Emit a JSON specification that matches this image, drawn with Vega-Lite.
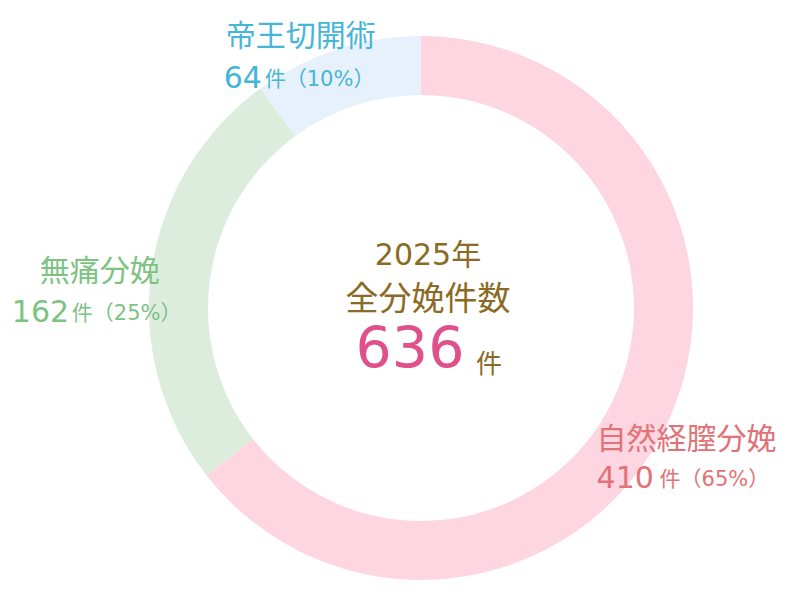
{
  "$schema": "https://vega.github.io/schema/vega-lite/v6.json",
  "width": 758,
  "height": 584,
  "autosize": "none",
  "padding": {"left": 42, "top": 16, "right": 0, "bottom": 0},
  "background": "white",
  "config": {
    "view": {"stroke": null},
    "text": {"font": "DejaVu Sans, Noto Sans CJK JP"}
  },
  "data": {
    "values": [
      {"category": "自然経膣分娩", "count": 410, "suffix": "件（65%）"},
      {"category": "無痛分娩", "count": 162, "suffix": "件（25%）"},
      {"category": "帝王切開術", "count": 64, "suffix": "件（10%）"}
    ]
  },
  "layer": [
    {
      "mark": {"type": "arc", "outerRadius": 272, "innerRadius": 213},
      "encoding": {
        "theta": {"field": "count", "type": "quantitative", "stack": true},
        "order": {"field": "count", "type": "quantitative", "sort": "descending"},
        "color": {
          "field": "category",
          "type": "nominal",
          "scale": {
            "domain": ["自然経膣分娩", "無痛分娩", "帝王切開術"],
            "range": ["#fdd6e2", "#dcecdd", "#e7f1fb"]
          },
          "legend": null
        }
      }
    },
    {
      "mark": {"type": "text", "radius": 300, "align": "left", "baseline": "middle", "dx": -94, "dy": 0, "fontSize": 30, "color": "#e27276"},
      "encoding": {
        "theta": {"field": "count", "type": "quantitative", "stack": true},
        "order": {"field": "count", "type": "quantitative", "sort": "descending"},
        "detail": {"field": "category", "type": "nominal"},
        "text": {"condition": {"test": "datum.category === '自然経膣分娩'", "field": "category"}, "value": ""}
      }
    },
    {
      "mark": {"type": "text", "radius": 300, "align": "left", "baseline": "middle", "dx": -94, "dy": 39, "fontSize": 30, "color": "#e27276"},
      "encoding": {
        "theta": {"field": "count", "type": "quantitative", "stack": true},
        "order": {"field": "count", "type": "quantitative", "sort": "descending"},
        "detail": {"field": "category", "type": "nominal"},
        "text": {"condition": {"test": "datum.category === '自然経膣分娩'", "field": "count"}, "value": ""}
      }
    },
    {
      "mark": {"type": "text", "radius": 300, "align": "left", "baseline": "middle", "dx": -31, "dy": 40, "fontSize": 21, "color": "#e27276"},
      "encoding": {
        "theta": {"field": "count", "type": "quantitative", "stack": true},
        "order": {"field": "count", "type": "quantitative", "sort": "descending"},
        "detail": {"field": "category", "type": "nominal"},
        "text": {"condition": {"test": "datum.category === '自然経膣分娩'", "field": "suffix"}, "value": ""}
      }
    },
    {
      "mark": {"type": "text", "radius": 300, "align": "left", "baseline": "middle", "dx": -84, "dy": 5, "fontSize": 30, "color": "#7cc382"},
      "encoding": {
        "theta": {"field": "count", "type": "quantitative", "stack": true},
        "order": {"field": "count", "type": "quantitative", "sort": "descending"},
        "detail": {"field": "category", "type": "nominal"},
        "text": {"condition": {"test": "datum.category === '無痛分娩'", "field": "category"}, "value": ""}
      }
    },
    {
      "mark": {"type": "text", "radius": 300, "align": "left", "baseline": "middle", "dx": -112, "dy": 46, "fontSize": 30, "color": "#7cc382"},
      "encoding": {
        "theta": {"field": "count", "type": "quantitative", "stack": true},
        "order": {"field": "count", "type": "quantitative", "sort": "descending"},
        "detail": {"field": "category", "type": "nominal"},
        "text": {"condition": {"test": "datum.category === '無痛分娩'", "field": "count"}, "value": ""}
      }
    },
    {
      "mark": {"type": "text", "radius": 300, "align": "left", "baseline": "middle", "dx": -52, "dy": 47, "fontSize": 21, "color": "#7cc382"},
      "encoding": {
        "theta": {"field": "count", "type": "quantitative", "stack": true},
        "order": {"field": "count", "type": "quantitative", "sort": "descending"},
        "detail": {"field": "category", "type": "nominal"},
        "text": {"condition": {"test": "datum.category === '無痛分娩'", "field": "suffix"}, "value": ""}
      }
    },
    {
      "mark": {"type": "text", "radius": 300, "align": "left", "baseline": "middle", "dx": -102, "dy": 14, "fontSize": 30, "color": "#45b5d8"},
      "encoding": {
        "theta": {"field": "count", "type": "quantitative", "stack": true},
        "order": {"field": "count", "type": "quantitative", "sort": "descending"},
        "detail": {"field": "category", "type": "nominal"},
        "text": {"condition": {"test": "datum.category === '帝王切開術'", "field": "category"}, "value": ""}
      }
    },
    {
      "mark": {"type": "text", "radius": 300, "align": "left", "baseline": "middle", "dx": -104, "dy": 56, "fontSize": 30, "color": "#45b5d8"},
      "encoding": {
        "theta": {"field": "count", "type": "quantitative", "stack": true},
        "order": {"field": "count", "type": "quantitative", "sort": "descending"},
        "detail": {"field": "category", "type": "nominal"},
        "text": {"condition": {"test": "datum.category === '帝王切開術'", "field": "count"}, "value": ""}
      }
    },
    {
      "mark": {"type": "text", "radius": 300, "align": "left", "baseline": "middle", "dx": -63, "dy": 57, "fontSize": 21, "color": "#45b5d8"},
      "encoding": {
        "theta": {"field": "count", "type": "quantitative", "stack": true},
        "order": {"field": "count", "type": "quantitative", "sort": "descending"},
        "detail": {"field": "category", "type": "nominal"},
        "text": {"condition": {"test": "datum.category === '帝王切開術'", "field": "suffix"}, "value": ""}
      }
    },
    {
      "transform": [{"aggregate": [{"op": "sum", "field": "count", "as": "total"}]}],
      "mark": {"type": "text", "align": "center", "baseline": "middle", "dx": 7, "dy": -52, "fontSize": 30, "color": "#8a6a24"},
      "encoding": {"text": {"value": "2025年"}}
    },
    {
      "transform": [{"aggregate": [{"op": "sum", "field": "count", "as": "total"}]}],
      "mark": {"type": "text", "align": "center", "baseline": "middle", "dx": 7, "dy": -8, "fontSize": 33, "color": "#8a6a24"},
      "encoding": {"text": {"value": "全分娩件数"}}
    },
    {
      "transform": [{"aggregate": [{"op": "sum", "field": "count", "as": "total"}]}],
      "mark": {"type": "text", "align": "center", "baseline": "middle", "dx": -11, "dy": 43, "fontSize": 57, "color": "#e0508a"},
      "encoding": {"text": {"field": "total", "type": "quantitative"}}
    },
    {
      "transform": [{"aggregate": [{"op": "sum", "field": "count", "as": "total"}]}],
      "mark": {"type": "text", "align": "center", "baseline": "middle", "dx": 68, "dy": 57, "fontSize": 26, "color": "#8a6a24"},
      "encoding": {"text": {"value": "件"}}
    }
  ]
}
